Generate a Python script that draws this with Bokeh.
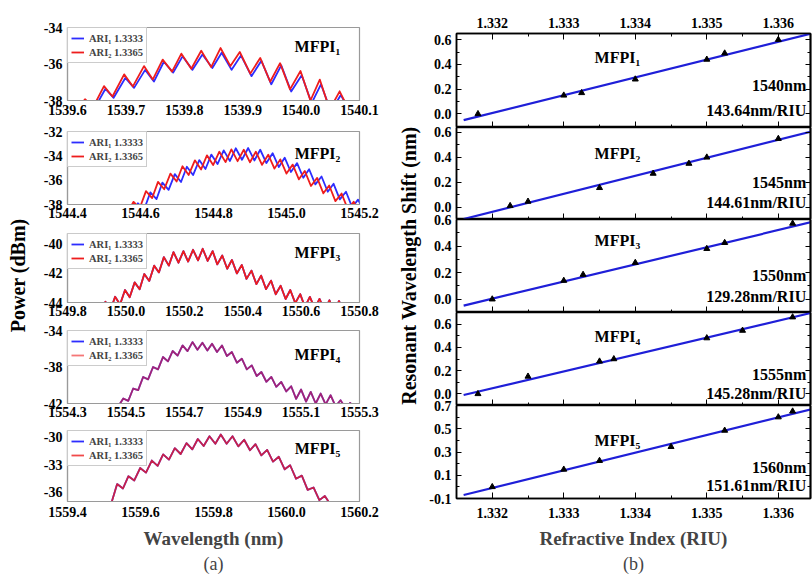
import math
from bokeh.plotting import figure
from bokeh.layouts import row, column
from bokeh.models import Range1d, FixedTicker, NumeralTickFormatter, LinearAxis, Title
from bokeh.core.properties import value
from bokeh.embed import file_html
from bokeh.resources import INLINE

# ---------------- data: (a) transmission spectra ----------------
legend_blue = "ARI\u2081 1.3333"
legend_red = "ARI\u2082 1.3365"

p1_blue_x = [1539.620, 1539.632, 1539.646, 1539.665, 1539.679, 1539.699, 1539.714, 1539.733, 1539.748, 1539.765,
             1539.781, 1539.797, 1539.814, 1539.831, 1539.848, 1539.864, 1539.881, 1539.897, 1539.915, 1539.932,
             1539.949, 1539.966, 1539.983, 1540.001, 1540.018, 1540.034, 1540.051, 1540.068, 1540.082]
p1_blue_y = [-38.5, -38.1, -38.45, -37.35, -37.85, -36.75, -37.3, -36.3, -36.95, -35.85, -36.45, -35.55, -36.3,
             -35.45, -36.2, -35.35, -36.3, -35.5, -36.65, -35.8, -37.1, -36.05, -37.5, -36.6, -38.15, -37.1,
             -38.6, -37.7, -38.5]
p1_red_x = [1539.618, 1539.630, 1539.644, 1539.6625, 1539.677, 1539.697, 1539.712, 1539.731, 1539.746, 1539.763,
            1539.779, 1539.795, 1539.812, 1539.829, 1539.846, 1539.862, 1539.879, 1539.895, 1539.913, 1539.930,
            1539.947, 1539.964, 1539.981, 1539.999, 1540.016, 1540.032, 1540.049, 1540.066, 1540.080]
p1_red_y = [-38.4, -37.93, -38.36, -37.2, -37.78, -36.55, -37.22, -36.09, -36.84, -35.73, -36.4, -35.4, -36.24,
            -35.24, -36.15, -35.09, -36.09, -35.31, -36.51, -35.64, -36.96, -35.93, -37.38, -36.36, -38.0, -36.84,
            -38.5, -37.49, -38.4]

p2_blue_x = [1544.577, 1544.593, 1544.610, 1544.627, 1544.644, 1544.660, 1544.677, 1544.694, 1544.711, 1544.727,
             1544.744, 1544.761, 1544.778, 1544.794, 1544.811, 1544.828, 1544.845, 1544.861, 1544.878, 1544.895,
             1544.912, 1544.928, 1544.945, 1544.962, 1544.979, 1544.995, 1545.012, 1545.029, 1545.046, 1545.062,
             1545.079, 1545.096, 1545.113, 1545.129, 1545.146, 1545.163, 1545.180, 1545.196, 1545.212]
p2_blue_y = [-38.7, -37.9, -38.4, -37.0, -37.55, -36.2, -36.8, -35.5, -36.15, -34.9, -35.58, -34.35, -35.08, -33.9,
             -34.68, -33.55, -34.42, -33.38, -34.32, -33.36, -34.38, -33.5, -34.59, -33.78, -34.92, -34.15, -35.33,
             -34.6, -35.8, -35.1, -36.35, -35.7, -36.95, -36.3, -37.58, -36.95, -38.23, -37.6, -38.5]
p2_red_x = [1544.565, 1544.581, 1544.598, 1544.615, 1544.632, 1544.648, 1544.665, 1544.682, 1544.699, 1544.715,
            1544.732, 1544.749, 1544.766, 1544.782, 1544.799, 1544.816, 1544.833, 1544.849, 1544.866, 1544.883,
            1544.900, 1544.916, 1544.933, 1544.950, 1544.967, 1544.983, 1545.000, 1545.017, 1545.034, 1545.050,
            1545.067, 1545.084, 1545.101, 1545.117, 1545.134, 1545.151, 1545.168, 1545.184, 1545.200]
p2_red_y = [-38.6, -37.78, -38.29, -36.90, -37.47, -36.14, -36.75, -35.46, -36.11, -34.86, -35.57, -34.37, -35.12,
            -33.96, -34.76, -33.66, -34.52, -33.47, -34.44, -33.50, -34.53, -33.66, -34.74, -33.91, -35.05, -34.29,
            -35.46, -34.72, -35.93, -35.24, -36.48, -35.81, -37.08, -36.44, -37.72, -37.10, -38.39, -37.78, -38.6]

# MFPI3..MFPI5: the two ARI spectra overlap in the picture
p3_x = [1549.915, 1549.930, 1549.947, 1549.963, 1549.980, 1549.997, 1550.013, 1550.030, 1550.047, 1550.063,
        1550.080, 1550.097, 1550.113, 1550.130, 1550.147, 1550.163, 1550.180, 1550.197, 1550.213, 1550.230,
        1550.247, 1550.263, 1550.280, 1550.297, 1550.313, 1550.330, 1550.347, 1550.363, 1550.380, 1550.397,
        1550.413, 1550.430, 1550.447, 1550.463, 1550.480, 1550.497, 1550.513, 1550.530, 1550.547, 1550.563,
        1550.580, 1550.597, 1550.613, 1550.630, 1550.647, 1550.663, 1550.680, 1550.697, 1550.713, 1550.730,
        1550.747]
p3_red_y = [-44.5, -43.95, -44.53, -43.61, -44.13, -43.15, -43.64, -42.63, -43.10, -42.06, -42.53, -41.49, -41.95,
            -40.91, -41.49, -40.57, -41.29, -40.50, -41.21, -40.41, -41.13, -40.34, -41.17, -40.50, -41.40, -40.80,
            -41.70, -41.10, -42.02, -41.44, -42.39, -41.83, -42.75, -42.17, -43.09, -42.51, -43.44, -42.86, -43.76,
            -43.15, -44.04, -43.43, -44.3, -43.62, -44.4, -43.75, -44.5, -43.85, -44.55, -43.9, -44.6]
p3_blue_y = p3_red_y

p4_x = [1554.474, 1554.491, 1554.508, 1554.525, 1554.542, 1554.559, 1554.576, 1554.593, 1554.610, 1554.627,
        1554.644, 1554.660, 1554.677, 1554.694, 1554.711, 1554.728, 1554.745, 1554.762, 1554.779, 1554.795,
        1554.812, 1554.829, 1554.846, 1554.863, 1554.880, 1554.897, 1554.914, 1554.931, 1554.948, 1554.964,
        1554.981, 1554.998, 1555.015, 1555.032, 1555.049, 1555.066, 1555.083, 1555.100, 1555.117, 1555.133,
        1555.150, 1555.167, 1555.184, 1555.201, 1555.218, 1555.235, 1555.252, 1555.268, 1555.285]
p4_red_y = [-42.3, -41.45, -41.71, -40.36, -40.53, -39.09, -39.35, -38.0, -38.26, -36.91, -37.38, -36.25, -36.75,
            -35.64, -36.26, -35.27, -36.11, -35.35, -36.20, -35.45, -36.35, -35.64, -36.80, -36.36, -37.53, -37.09,
            -38.26, -37.82, -38.99, -38.55, -39.62, -39.09, -40.17, -39.64, -40.68, -40.11, -41.5, -40.47, -41.8,
            -40.73, -42.0, -40.91, -42.1, -41.09, -42.3, -41.64, -42.5, -41.93, -42.6]
p4_blue_y = p4_red_y

p5_x = [1559.520, 1559.536, 1559.552, 1559.567, 1559.583, 1559.599, 1559.615, 1559.631, 1559.647, 1559.662,
        1559.678, 1559.694, 1559.710, 1559.726, 1559.742, 1559.757, 1559.773, 1559.789, 1559.805, 1559.820,
        1559.836, 1559.852, 1559.868, 1559.884, 1559.900, 1559.915, 1559.931, 1559.947, 1559.963, 1559.979,
        1559.995, 1560.010, 1560.026, 1560.042, 1560.058, 1560.074, 1560.090, 1560.105, 1560.120]
p5_red_y = [-37.2, -35.11, -35.59, -34.26, -34.72, -33.37, -33.87, -32.56, -33.13, -31.89, -32.46, -31.22, -31.85,
            -30.67, -31.35, -30.22, -30.98, -29.93, -30.74, -29.74, -30.74, -29.93, -31.02, -30.30, -31.44, -30.78,
            -32.0, -31.41, -32.68, -32.15, -33.51, -33.07, -34.53, -34.19, -35.74, -35.48, -36.85, -36.41, -37.3]
p5_blue_y = p5_red_y

# axis ticks (a)
p1_xticks = [1539.6, 1539.7, 1539.8, 1539.9, 1540.0, 1540.1]
p2_xticks = [1544.4, 1544.6, 1544.8, 1545.0, 1545.2]
p3_xticks = [1549.8, 1550.0, 1550.2, 1550.4, 1550.6, 1550.8]
p4_xticks = [1554.3, 1554.5, 1554.7, 1554.9, 1555.1, 1555.3]
p5_xticks = [1559.4, 1559.6, 1559.8, 1560.0, 1560.2]
p1_yticks = [-38, -36, -34]
p2_yticks = [-38, -36, -34, -32]
p3_yticks = [-44, -42, -40]
p4_yticks = [-42, -38, -34]
p5_yticks = [-36, -33, -30]

# ---------------- data: (b) wavelength shift vs RI ----------------
ri_ticks = [1.332, 1.333, 1.334, 1.335, 1.336]
ri_minor = [1.3315, 1.3325, 1.3335, 1.3345, 1.3355]

r1_x = [1.3318, 1.333, 1.33325, 1.334, 1.335, 1.33525, 1.336]
r1_y = [0.0, 0.15, 0.17, 0.28, 0.44, 0.49, 0.60]
r2_x = [1.33225, 1.3325, 1.3335, 1.33425, 1.33475, 1.335, 1.336]
r2_y = [0.01, 0.045, 0.155, 0.27, 0.35, 0.40, 0.55]
r3_x = [1.332, 1.333, 1.33327, 1.334, 1.335, 1.33525, 1.3362]
r3_y = [0.0, 0.14, 0.185, 0.275, 0.38, 0.425, 0.57]
r4_x = [1.3318, 1.3325, 1.3335, 1.3337, 1.335, 1.3355, 1.3362]
r4_y = [0.0, 0.15, 0.28, 0.30, 0.48, 0.545, 0.66]
r5_x = [1.332, 1.333, 1.3335, 1.3345, 1.33525, 1.336, 1.3362]
r5_y = [0.0, 0.15, 0.225, 0.345, 0.485, 0.60, 0.65]

fit_x = [1.3316, 1.3365]
fit1_y = [-0.05, 0.655]
fit2_y = [-0.096, 0.613]
fit3_y = [-0.048, 0.585]
fit4_y = [-0.01, 0.702]
fit5_y = [-0.07, 0.673]

wavelengths = ["1540nm", "1545nm", "1550nm", "1555nm", "1560nm"]
sensitivities = ["143.64nm/RIU", "144.61nm/RIU", "129.28nm/RIU", "145.28nm/RIU", "151.61nm/RIU"]
names = ["MFPI\u2081", "MFPI\u2082", "MFPI\u2083", "MFPI\u2084", "MFPI\u2085"]

# ---------------- styling ----------------
FONT = "Liberation Serif"
BLUE = "#2d2dff"
RED = "#ee1d1d"
FIT = "#1f1fd8"
GRAY = "#9a9a9a"
RI_END = 1.33645


def tick_font(ax, size="14px"):
    ax.major_label_text_font = FONT
    ax.major_label_text_font_style = "bold"
    ax.major_label_text_font_size = size
    ax.major_label_text_color = "black"


def left_panel(xr, yr, xt, yt, fh, bt, bb, bx, by, rx, ry, red_alpha, label, lx, ly, standoff=3):
    p = figure(frame_width=292, frame_height=fh, x_range=Range1d(*xr), y_range=Range1d(*yr),
               min_border_left=29, min_border_right=35, min_border_top=bt, min_border_bottom=bb,
               toolbar_location=None, tools="", output_backend="svg")
    p.grid.visible = False
    p.outline_line_color = GRAY
    p.outline_line_width = 1.2
    p.xaxis.ticker = FixedTicker(ticks=xt)
    p.xaxis.formatter = NumeralTickFormatter(format="0.0")
    p.yaxis.ticker = FixedTicker(ticks=yt)
    p.yaxis.formatter = NumeralTickFormatter(format="0")
    for ax in (p.xaxis[0], p.yaxis[0]):
        ax.axis_line_color = GRAY
        ax.axis_line_width = 1.2
        ax.major_tick_in = 0
        ax.major_tick_out = 0
        ax.minor_tick_in = 0
        ax.minor_tick_out = 0
        tick_font(ax)
    p.xaxis.major_label_standoff = standoff
    p.yaxis.major_label_standoff = 5
    p.line(bx, by, color=BLUE, line_width=1.8, line_join="round", legend_label=legend_blue)
    p.line(rx, ry, color=RED, line_width=1.8, line_join="round", line_alpha=red_alpha, legend_label=legend_red)
    lg = p.legend[0]
    lg.location = "top_left"
    lg.margin = 0
    lg.padding = 3
    lg.spacing = 0
    lg.label_text_font = FONT
    lg.label_text_font_style = "bold"
    lg.label_text_font_size = "10.5px"
    lg.glyph_width = 13
    lg.glyph_height = 14
    lg.label_height = 14
    lg.label_standoff = 5
    lg.border_line_color = GRAY
    p.text(x=[lx], y=[ly], text=[label], text_font=value(FONT), text_font_style="bold",
           text_font_size="16px", text_align="center", text_baseline="middle", text_color="black")
    return p


def tick_only_axis(positions, length):
    return LinearAxis(ticker=FixedTicker(ticks=[], minor_ticks=positions), major_tick_in=0, major_tick_out=0,
                      minor_tick_in=length, minor_tick_out=0, major_label_standoff=0, axis_line_width=1.5)


def right_panel(yr, ymaj, ymin, fh, bt, bb, px, py, fy, label, ly, nm, sens, nm_y, sens_y,
                first=False, last=False):
    p = figure(frame_width=354, frame_height=fh, x_range=Range1d(1.3315, RI_END), y_range=Range1d(*yr),
               min_border_left=34, min_border_right=2, min_border_top=bt, min_border_bottom=bb,
               x_axis_location=None, toolbar_location=None, tools="", output_backend="svg")
    p.grid.visible = False
    p.outline_line_color = "black"
    p.outline_line_width = 1.5
    if last:
        xa = LinearAxis(ticker=FixedTicker(ticks=ri_ticks, minor_ticks=ri_minor),
                        formatter=NumeralTickFormatter(format="0.000"), major_tick_in=6, major_tick_out=0,
                        minor_tick_in=3, minor_tick_out=0, axis_line_width=1.5, major_label_standoff=9)
        tick_font(xa)
        xa.axis_label = "Refractive Index (RIU)"
        xa.axis_label_text_font = FONT
        xa.axis_label_text_font_style = "bold"
        xa.axis_label_text_font_size = "19px"
        xa.axis_label_standoff = 7
        p.add_layout(xa, "below")
        p.add_layout(Title(text="(b)", align="center", text_font=FONT, text_font_style="normal",
                           text_font_size="18px", standoff=0), "below")
    else:
        p.add_layout(tick_only_axis(ri_ticks, 6), "below")
        p.add_layout(tick_only_axis(ri_minor, 3), "below")
    ya = p.yaxis[0]
    ya.ticker = FixedTicker(ticks=ymaj, minor_ticks=ymin)
    ya.formatter = NumeralTickFormatter(format="0.0")
    ya.major_tick_in = 5
    ya.major_tick_out = 0
    ya.minor_tick_in = 3
    ya.minor_tick_out = 0
    ya.axis_line_width = 1.5
    ya.major_label_standoff = 5
    tick_font(ya)
    p.add_layout(tick_only_axis(ymaj, 5), "right")
    p.add_layout(tick_only_axis(ymin, 3), "right")
    if first:
        ta = LinearAxis(ticker=FixedTicker(ticks=ri_ticks, minor_ticks=ri_minor),
                        formatter=NumeralTickFormatter(format="0.000"), major_tick_in=6, major_tick_out=0,
                        minor_tick_in=3, minor_tick_out=0, major_label_standoff=6, axis_line_width=1.5)
        tick_font(ta)
        p.add_layout(ta, "above")
    else:
        p.border_fill_alpha = 0
        p.margin = (-bt, 0, 0, 0)
    p.line(fit_x, fy, color=FIT, line_width=2.2)
    p.scatter(px, py, marker="triangle", size=6, color="black")
    p.text(x=[1.33375], y=[ly], text=[label], text_font=value(FONT), text_font_style="bold",
           text_font_size="16px", text_align="center", text_baseline="middle", text_color="black")
    p.text(x=[1.33639, 1.33639], y=[nm_y, sens_y], text=[nm, sens], text_font=value(FONT),
           text_font_style="bold", text_font_size="16px", text_align="right", text_baseline="middle",
           text_color="black")
    return p


def vtitle(width, text, xf, yf):
    p = figure(width=width, height=575, x_range=Range1d(0, 1), y_range=Range1d(0, 1),
               x_axis_type=None, y_axis_type=None, min_border=0, min_border_left=0, min_border_right=0,
               min_border_top=0, min_border_bottom=0, toolbar_location=None, tools="", output_backend="svg")
    p.grid.visible = False
    p.outline_line_color = None
    p.text(x=[xf], y=[yf], text=[text], angle=math.pi / 2, text_font=value(FONT), text_font_style="bold",
           text_font_size="20px", text_align="center", text_baseline="middle", text_color="black")
    return p


# ---------------- left column (a) ----------------
L1 = left_panel((1539.6, 1540.1), (-38, -33.95), p1_xticks, p1_yticks, 73, 27, 21,
                p1_blue_x, p1_blue_y, p1_red_x, p1_red_y, 1.0, names[0], 1540.028, -35.0, standoff=4)
L2 = left_panel((1544.4, 1545.2), (-38, -32), p2_xticks, p2_yticks, 73, 10, 19,
                p2_blue_x, p2_blue_y, p2_red_x, p2_red_y, 1.0, names[1], 1545.085, -33.78)
L3 = left_panel((1549.8, 1550.8), (-44, -39.3), p3_xticks, p3_yticks, 69, 10, 18,
                p3_x, p3_blue_y, p3_x, p3_red_y, 1.0, names[2], 1550.656, -40.57)
L4 = left_panel((1554.3, 1555.3), (-42, -34), p4_xticks, p4_yticks, 73, 10, 17,
                p4_x, p4_blue_y, p4_x, p4_red_y, 0.6, names[3], 1555.156, -36.63)
L5 = left_panel((1559.4, 1560.2), (-37, -29.3), p5_xticks, p5_yticks, 71, 10, 74,
                p5_x, p5_blue_y, p5_x, p5_red_y, 0.8, names[4], 1560.085, -31.25, standoff=5)
ax5 = L5.xaxis[0]
ax5.axis_label = "Wavelength (nm)"
ax5.axis_label_text_font = FONT
ax5.axis_label_text_font_style = "bold"
ax5.axis_label_text_font_size = "19px"
ax5.axis_label_standoff = 8
L5.add_layout(Title(text="(a)", align="center", text_font=FONT, text_font_style="normal",
                    text_font_size="18px", standoff=0), "below")

# ---------------- right column (b) ----------------
maj4 = [0.0, 0.2, 0.4, 0.6]
min4 = [-0.1, 0.1, 0.3, 0.5]
R1 = right_panel((-0.11, 0.65), maj4, min4, 94, 33, 0, r1_x, r1_y, fit1_y, names[0], 0.46,
                 wavelengths[0], sensitivities[0], 0.23, 0.027, first=True)
R2 = right_panel((-0.1, 0.64), maj4, min4, 92, 9, 0, r2_x, r2_y, fit2_y, names[1], 0.43,
                 wavelengths[1], sensitivities[1], 0.20, 0.04)
R3 = right_panel((-0.1, 0.6), maj4, min4, 93, 9, 0, r3_x, r3_y, fit3_y, names[2], 0.44,
                 wavelengths[2], sensitivities[2], 0.178, 0.02)
R4 = right_panel((-0.1, 0.7), maj4, min4, 93, 9, 0, r4_x, r4_y, fit4_y, names[3], 0.49,
                 wavelengths[3], sensitivities[3], 0.17, 0.006)
R5 = right_panel((-0.1, 0.7), [-0.1, 0.1, 0.3, 0.5, 0.7], [0.0, 0.2, 0.4, 0.6], 93, 9, 77,
                 r5_x, r5_y, fit5_y, names[4], 0.40, wavelengths[4], sensitivities[4], 0.17, 0.012, last=True)

TL = vtitle(38, "Power (dBm)", 0.46, 0.522)
TR = vtitle(28, "Resonant Wavelength Shift (nm)", 0.5, 0.539)

layout = row(TL, column(L1, L2, L3, L4, L5, spacing=0), TR, column(R1, R2, R3, R4, R5, spacing=0), spacing=0)

open("out.html", "w").write(file_html(layout, INLINE))
